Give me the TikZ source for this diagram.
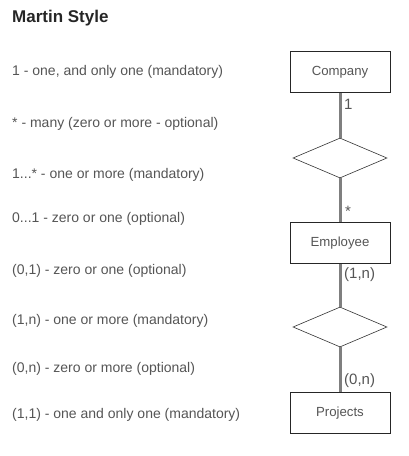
\documentclass[tikz,border=0pt]{standalone}
\usepackage{fontspec}
\setmainfont{Liberation Sans}
\usetikzlibrary{shapes.geometric}
\definecolor{txtgray}{HTML}{555555}
\definecolor{linkgray}{HTML}{7F7F7F}
\tikzset{
	entity/.style = {rectangle, draw=black!85, line width=0.8pt, fill=white,
		minimum width=100pt, minimum height=41pt, inner sep=0pt,
		font=\fontsize{13.2}{15}\selectfont, text=txtgray},% entite
	relation/.style = {diamond, draw=black!80, line width=0.6pt, fill=white,
		minimum width=94pt, minimum height=40pt, inner sep=0pt},% relation
	legend/.style = {anchor=west, inner sep=0pt, text=txtgray,
		font=\fontsize{14}{16}\selectfont},% legende
	card/.style = {anchor=west, inner sep=0pt, text=txtgray,
		font=\fontsize{15}{17}\selectfont},% cardinalite
	link/.style = {draw=linkgray, line width=3pt}
}
\begin{document}
\begin{tikzpicture}[x=1pt,y=-1pt]
\useasboundingbox (0,0) rectangle (409,456);
% titre
\node [anchor=west, inner sep=0pt, font=\fontsize{17}{19}\selectfont\bfseries,
	text=black!85] (title) at (12,18) {Martin Style};
% legende
\node [legend] (l1) at (12,72) {1 - one, and only one (mandatory)};
\node [legend] (l2) at (12,124) {* - many (zero or more - optional)};
\node [legend] (l3) at (12,175) {1...* - one or more (mandatory)};
\node [legend] (l4) at (12,219) {0...1 - zero or one (optional)};
\node [legend] (l5) at (12,271) {(0,1) - zero or one (optional)};
\node [legend] (l6) at (12,321) {(1,n) - one or more (mandatory)};
\node [legend] (l7) at (12,369) {(0,n) - zero or more (optional)};
\node [legend] (l8) at (12,415) {(1,1) - one and only one (mandatory)};
% diagramme
\node [entity] (company) at (340,72) {Company};
\node [relation] (rel1) at (340,158) {};
\node [entity] (employee) at (340,243) {Employee};
\node [relation] (rel2) at (340,327) {};
\node [entity] (projects) at (340,413) {Projects};
\draw [link] (company.south) -- (rel1.north);
\draw [link] (rel1.south) -- (employee.north);
\draw [link] (employee.south) -- (rel2.north);
\draw [link] (rel2.south) -- (projects.north);
% cardinalites
\node [card] (c1) at (344,104) {1};
\node [card] (c2) at (345,211) {*};
\node [card] (c3) at (344,275) {(1,n)};
\node [card] (c4) at (344,381) {(0,n)};
\end{tikzpicture}
\end{document}
